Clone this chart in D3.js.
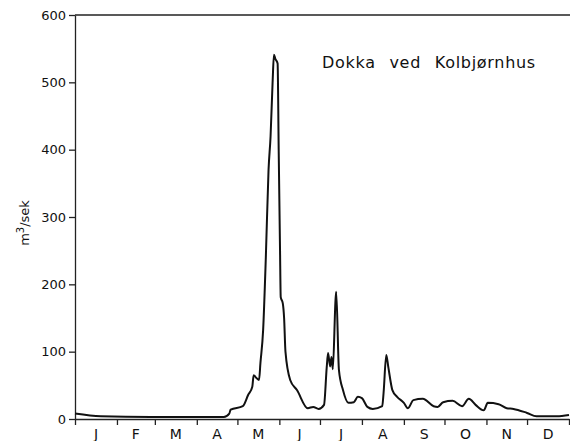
<!DOCTYPE html>
<html>
<head>
<meta charset="utf-8">
<script src="https://cdn.jsdelivr.net/npm/d3@7"></script>
<style>
  body { margin: 0; background: #fff; }
  text { font-family: "DejaVu Sans", sans-serif; fill: #111; }
</style>
</head>
<body>
<div id="chart"></div>
<script>
var days = [0, 19, 56, 93, 110, 114, 115, 124, 128, 131, 132, 134, 136, 137, 139, 141, 143, 144.5, 146, 147, 148, 149.7,
  150.5, 151.5, 152, 153.5, 154.5, 155.5, 159, 164, 172, 176, 180, 184, 186, 187, 188.5, 189.5, 190.5, 192.5, 193,
  195, 198, 202, 206, 209, 212, 216, 220, 227, 228, 230, 231.5, 234.5, 238, 243, 246, 250, 257, 265, 268, 272, 279,
  286, 291, 296, 302, 305, 313, 319, 324, 334, 341, 356, 365];
var flow = [8, 4, 3, 3, 3, 8, 14, 19, 36, 48, 65, 61, 58, 83, 132, 240, 370, 420, 500, 541, 535, 528,
  400, 250, 181, 172, 150, 100, 58, 43, 16, 18, 15, 21, 77, 98, 78, 92, 74, 177, 189,
  73, 43, 24, 25, 33, 31, 18, 15, 19, 39, 95, 77, 43, 33, 24, 16, 28, 30, 19, 18, 25, 27,
  19, 30, 21, 13, 24, 22, 16, 15, 9, 4, 4, 6];

var monthLabels = ["J", "F", "M", "A", "M", "J", "J", "A", "S", "O", "N", "D"];
var monthStarts = [0, 31, 59, 90, 120, 151, 181, 212, 243, 273, 304, 334, 365];
var yTicks = [0, 100, 200, 300, 400, 500, 600];
var title = "Dokka ved Kolbjørnhus";

var width = 570, height = 441;
var svg = d3.select("#chart").append("svg")
  .attr("width", width)
  .attr("height", height);

var x = d3.scaleLinear().domain([0, 365]).range([75, 569]);
var y = d3.scaleLinear().domain([0, 600]).range([419, 15]);

// top frame line
svg.append("line")
  .attr("x1", x(0)).attr("x2", width)
  .attr("y1", y(600)).attr("y2", y(600))
  .attr("stroke", "#222").attr("stroke-width", 1.3);

var yAxis = svg.append("g")
  .attr("transform", "translate(" + x(0) + ",0)")
  .call(d3.axisLeft(y).tickValues(yTicks).tickSize(6).tickPadding(3).tickSizeOuter(0));
yAxis.selectAll("text").style("font-size", "13px").style("font-family", "DejaVu Sans, sans-serif");
yAxis.selectAll("line, path").attr("stroke", "#222").attr("stroke-width", 1.3);

var xAxis = svg.append("g")
  .attr("transform", "translate(0," + y(0) + ")")
  .call(d3.axisBottom(x).tickValues(monthStarts).tickSize(6).tickFormat("").tickSizeOuter(0));
xAxis.selectAll("line, path").attr("stroke", "#222").attr("stroke-width", 1.3);

svg.append("g").selectAll("text")
  .data(monthLabels)
  .join("text")
  .attr("x", function(d, i) { return x((monthStarts[i] + monthStarts[i + 1]) / 2); })
  .attr("y", 439)
  .attr("text-anchor", "middle")
  .style("font-size", "14px")
  .text(function(d) { return d; });

// y axis title
svg.append("text")
  .attr("transform", "translate(29,223) rotate(-90)")
  .attr("text-anchor", "middle")
  .style("font-size", "13px")
  .html("m<tspan dy='-5' font-size='10px'>3</tspan><tspan dy='5'>/sek</tspan>");

svg.append("text")
  .attr("x", 322)
  .attr("y", 68)
  .style("font-size", "16px")
  .style("letter-spacing", "0.7px")
  .style("word-spacing", "8px")
  .text(title);

var pts = days.map(function(d, i) { return [d, flow[i]]; });
var line = d3.line()
  .curve(d3.curveMonotoneX)
  .x(function(d) { return x(d[0]); })
  .y(function(d) { return y(d[1]); });

svg.append("path")
  .datum(pts)
  .attr("d", line)
  .attr("fill", "none")
  .attr("stroke", "#111")
  .attr("stroke-width", 2)
  .attr("stroke-linejoin", "round");
</script>
</body>
</html>
